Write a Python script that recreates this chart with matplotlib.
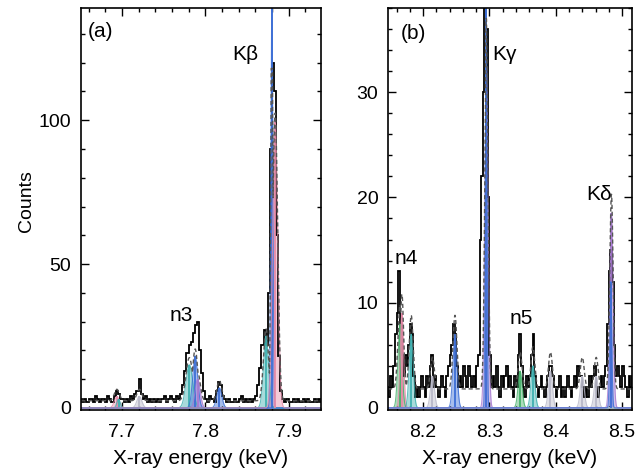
import numpy as np
import matplotlib.pyplot as plt
from matplotlib.ticker import MultipleLocator

plt.rcParams['font.family'] = ['Liberation Sans', 'DejaVu Sans']

# panel (a): histogram counts, bins of 2.5 eV starting at 7.650 keV
a_start, a_width = 7.650, 0.0025
a_counts = [3, 2, 3, 2, 3, 3, 2, 4, 3, 2, 3, 3, 2, 4, 3, 2,
            4, 6, 5, 3,
            3, 2, 3, 2, 4, 3, 5,
            6, 10, 5,
            3, 4, 2, 3, 2, 3, 2, 3, 2, 3, 4, 2, 3, 4, 3, 2, 4, 3, 5,
            8, 13, 19, 22, 23, 26, 29, 30, 20, 12, 6,
            3, 2, 4, 3, 2,
            6, 9, 8, 4,
            3, 2, 3, 2, 2, 3, 2, 3, 4, 2, 3, 2, 3, 2, 3, 4,
            8, 14, 22, 27, 22, 40, 90, 120, 110, 60, 18, 6, 3,
            2, 3, 2, 2, 3, 2, 3, 2, 2, 3, 2, 3, 2, 2, 3, 2, 3, 2]

# panel (b): histogram counts, bins of 2.5 eV starting at 8.145 keV
b_start, b_width = 8.145, 0.0025
b_counts = [2, 1, 3, 2, 4,
            7, 9, 13, 8, 5, 3, 5, 4, 6, 8, 7, 3, 1,
            2, 1, 2, 3, 2, 1, 3, 2, 4,
            5, 2, 3, 2,
            1, 2, 3, 2, 1, 3, 4, 5,
            6, 8, 7, 4, 2,
            3, 2, 4, 3, 2, 4, 3, 2, 3, 2, 4,
            5, 16, 22, 30, 38, 36, 20, 5, 2,
            3, 2, 4, 2, 1, 3, 2, 3, 4, 2, 3, 2, 1, 3, 2, 5,
            7, 4, 2, 1, 3, 2, 3, 5, 7, 3, 2,
            1, 2, 3, 2, 1, 2, 3, 4, 4, 3,
            2, 1, 2, 3, 1, 2, 1, 2, 3, 2, 1, 2,
            3, 2, 4, 3, 3, 2, 1,
            2, 1, 3, 2, 3, 4, 2,
            1, 2, 3, 2,
            3, 4, 8, 13, 15, 12, 6, 3, 4,
            3, 2, 4, 3, 2, 1, 3, 2, 3, 2]

# fitted line components: centre (keV), amplitude, sigma (keV), colour
pink, blue, teal, green, purple, grey = '#e58aa8', '#3d6fd6', '#3fb0b0', '#45b06a', '#a77ad0', '#b9b9c9'
a_centres = [7.694, 7.696, 7.721, 7.781, 7.788, 7.791, 7.817, 7.873, 7.880, 7.884]
a_amps = [4, 3, 4, 15, 18, 10, 7, 25, 140, 100]
a_sigmas = [0.003, 0.002, 0.003, 0.004, 0.003, 0.003, 0.003, 0.003, 0.0012, 0.003]
a_colors = [pink, teal, grey, teal, blue, purple, blue, teal, blue, pink]
a_fit_peak = 118
a_base = 2.5

b_centres = [8.165, 8.168, 8.182, 8.214, 8.248, 8.2955, 8.295, 8.3462, 8.3655, 8.392, 8.440, 8.461, 8.484, 8.483]
b_amps = [8, 9, 7, 3, 7, 32.5, 39, 3.5, 4, 3.5, 3, 3, 18.5, 12]
b_sigmas = [0.003, 0.0025, 0.003, 0.003, 0.003, 0.0025, 0.0012, 0.003, 0.003, 0.003, 0.003, 0.003, 0.0025, 0.0015]
b_colors = [green, pink, teal, grey, blue, purple, blue, green, teal, grey, grey, grey, purple, blue]
b_fit_peak = 37
b_base = 1.8


def draw_panel(ax, start, width, counts, centres, amps, sigmas, colors, base, fit_peak):
    counts = np.array(counts, dtype=float)
    edges = start + width * np.arange(len(counts) + 1)
    x = np.linspace(edges[0], edges[-1], 3000)
    comps = []
    for c, a, s, col in zip(centres, amps, sigmas, colors):
        g = a * np.exp(-0.5 * ((x - c) / s) ** 2)
        comps.append(g)
        ax.fill_between(x, 0, g, color=col, alpha=0.45, lw=0)
        ax.plot(x, g, color=col, lw=0.8, alpha=0.8)
        ax.vlines(c, 0, a, color=col, lw=1.3)
    # envelope of the fit, capped at the fitted maximum
    total = np.minimum(base + np.max(comps, axis=0), fit_peak)
    ax.stairs(counts, edges, color='black', lw=1.3)
    ax.plot(x, total, color='#555555', lw=1.0, ls=(0, (3, 2)))


fig = plt.figure(figsize=(6.36, 4.75), dpi=100)
ax1 = fig.add_axes([81 / 636, 1 - 410 / 475, 240 / 636, 402 / 475])
ax2 = fig.add_axes([388 / 636, 1 - 410 / 475, 244 / 636, 402 / 475])

draw_panel(ax1, a_start, a_width, a_counts, a_centres, a_amps, a_sigmas, a_colors, a_base, a_fit_peak)
draw_panel(ax2, b_start, b_width, b_counts, b_centres, b_amps, b_sigmas, b_colors, b_base, b_fit_peak)

ax1.set_xlim(7.651, 7.939)
ax1.set_ylim(-0.7, 139)
ax1.xaxis.set_major_locator(MultipleLocator(0.1))
ax1.xaxis.set_minor_locator(MultipleLocator(0.02))
ax1.yaxis.set_major_locator(MultipleLocator(50))
ax1.yaxis.set_minor_locator(MultipleLocator(10))

ax2.set_xlim(8.147, 8.515)
ax2.set_ylim(-0.2, 38)
ax2.xaxis.set_major_locator(MultipleLocator(0.1))
ax2.xaxis.set_minor_locator(MultipleLocator(0.02))
ax2.yaxis.set_major_locator(MultipleLocator(10))
ax2.yaxis.set_minor_locator(MultipleLocator(2))

for ax in (ax1, ax2):
    for sp in ax.spines.values():
        sp.set_linewidth(1.2)
    ax.tick_params(which='both', direction='in', top=True, right=True, labelsize=14, width=1.0)
    ax.tick_params(which='major', length=6)
    ax.tick_params(which='minor', length=3)
    ax.tick_params(axis='x', which='major', pad=10)
    ax.tick_params(axis='y', which='major', pad=7)
    ax.set_xlabel('X-ray energy (keV)', fontsize=15, labelpad=6)

ax1.set_ylabel('Counts', fontsize=14)
ax1.yaxis.set_label_coords(-0.19, 0.52)

ax1.text(7.674, 127.7, '(a)', fontsize=15, ha='center', va='bottom')
ax1.text(7.848, 119.5, 'Kβ', fontsize=15, ha='center', va='bottom')
ax1.text(7.771, 29, 'n3', fontsize=15, ha='center', va='bottom')

ax2.text(8.186, 34.7, '(b)', fontsize=15, ha='center', va='bottom')
ax2.text(8.322, 32.7, 'Kγ', fontsize=15, ha='center', va='bottom')
ax2.text(8.465, 19.4, 'Kδ', fontsize=15, ha='center', va='bottom')
ax2.text(8.174, 13.3, 'n4', fontsize=15, ha='center', va='bottom')
ax2.text(8.348, 7.6, 'n5', fontsize=15, ha='center', va='bottom')

fig.savefig('out.png', dpi=100)
